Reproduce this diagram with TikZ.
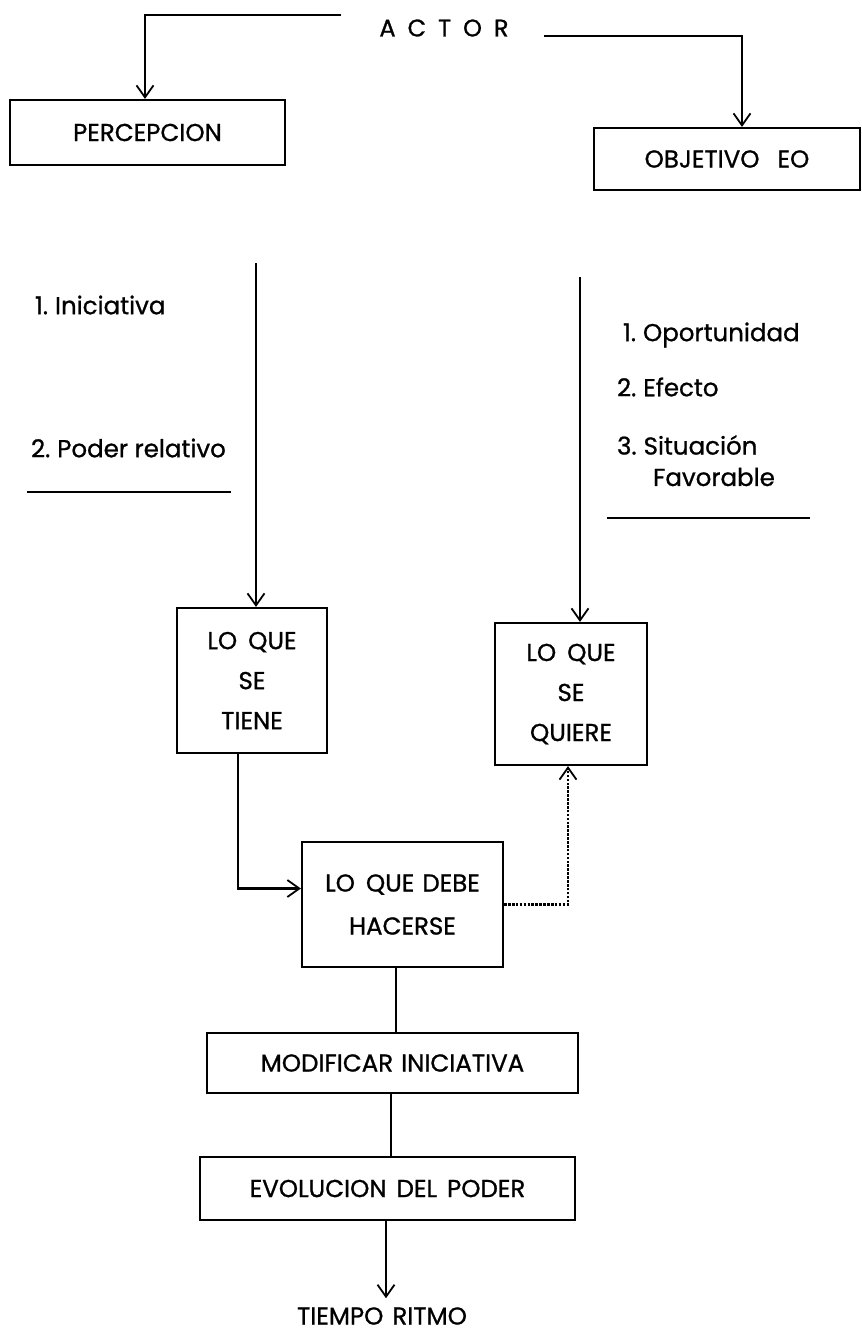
\documentclass[tikz,border=0pt]{standalone}
\usepackage{fontspec}
\setmainfont[FakeBold=0.9]{Poppins}
\usetikzlibrary{arrows.meta,calc}
\begin{document}
\begin{tikzpicture}[x=1pt,y=-1pt,
  line width=2.1pt,
  every node/.style={inner sep=0pt},
  box/.style={draw,rectangle,line width=2.2pt,align=center,font=\fontsize{24.5}{40}\selectfont},
  lbl/.style={anchor=west,font=\fontsize{24.5}{28}\selectfont},
  arr/.style={-{Straight Barb[length=12pt,width=17pt,line width=1.8pt]}},
  dotline/.style={dash pattern=on 2.6pt off 1.3pt}
]
\fill[white] (0,0) rectangle (862,1334);
\useasboundingbox (0,0) rectangle (862,1334);

% title
\node[font=\fontsize{24}{28}\selectfont] (actor) at (444,28) {A\hspace{12pt}C\hspace{12pt}T\hspace{12pt}O\hspace{12pt}R};

% boxes
\node[box,minimum width=275pt,minimum height=65pt] (perc) at (147.5,132.5) {PERCEPCION};
\node[box,minimum width=266pt,minimum height=62pt] (obj) at (727,159) {OBJETIVO\hspace{18pt}EO};
\node[box,minimum width=150pt,minimum height=145pt] (tiene) at (252,680.5) {LO\hspace{11pt}QUE\\SE\\TIENE};
\node[box,minimum width=152pt,minimum height=142pt] (quiere) at (571,694) {LO\hspace{11pt}QUE\\SE\\QUIERE};
\node[box,minimum width=201pt,minimum height=125pt,font=\fontsize{24.5}{43}\selectfont] (debe) at (402.5,904.5) {LO\hspace{11pt}QUE\hspace{8pt}DEBE\\HACERSE};
\node[box,minimum width=371pt,minimum height=60pt] (modif) at (392.5,1063) {MODIFICAR\hspace{8pt}INICIATIVA};
\node[box,minimum width=375pt,minimum height=63pt] (evol) at (387.5,1188.5) {EVOLUCION\hspace{10pt}DEL\hspace{10pt}PODER};
\node[font=\fontsize{24.5}{28}\selectfont] (tiempo) at (382,1316) {TIEMPO\hspace{9pt}RITMO};

% lists
\node[lbl] (ini) at (34,305) {1.\hspace{7pt}Iniciativa};
\node[lbl] (pod) at (30,448) {2.\hspace{7pt}Poder relativo};
\node[lbl] (opo) at (622,335) {1.\hspace{7pt}Oportunidad};
\node[lbl] (efe) at (616,387) {2.\hspace{7pt}Efecto};
\node[lbl] (sit) at (616,445) {3.\hspace{7pt}Situación};
\node[lbl] (fav) at (652,477) {Favorable};

\coordinate (ul1) at (27,492);
\coordinate (ul2) at (231,492);
\coordinate (ur1) at (607,518);
\coordinate (ur2) at (810,518);
\draw (ul1) -- (ul2);
\draw (ur1) -- (ur2);

% actor connectors
\coordinate (al) at (341,15);
\coordinate (alc) at (145,15);
\coordinate (ar) at (544,36);
\coordinate (arc) at (742,36);
\draw[arr] (al) -- (alc) -- (alc |- perc.north);
\draw[arr] (ar) -- (arc) -- (arc |- obj.north);

% long verticals
\coordinate (vl) at (256,263);
\coordinate (vr) at (580,277);
\draw[arr] (vl) -- (vl |- tiene.north);
\draw[arr] (vr) -- (vr |- quiere.north);

% tiene -> debe
\coordinate (tx) at (238,0);
\draw[arr] (tiene.south -| tx) |- ([yshift=16pt]debe.west);

% debe -> quiere dotted
\coordinate (qx) at (568,0);
\draw[arr,dotline] (debe.east) -| (quiere.south -| qx);

% down chain
\coordinate (c1) at (396,0);
\coordinate (c2) at (391,0);
\coordinate (c3) at (386,0);
\draw (debe.south -| c1) -- (modif.north -| c1);
\draw (modif.south -| c2) -- (evol.north -| c2);
\draw[arr] (evol.south -| c3) -- ([yshift=8pt]tiempo.north -| c3);
\end{tikzpicture}
\end{document}
